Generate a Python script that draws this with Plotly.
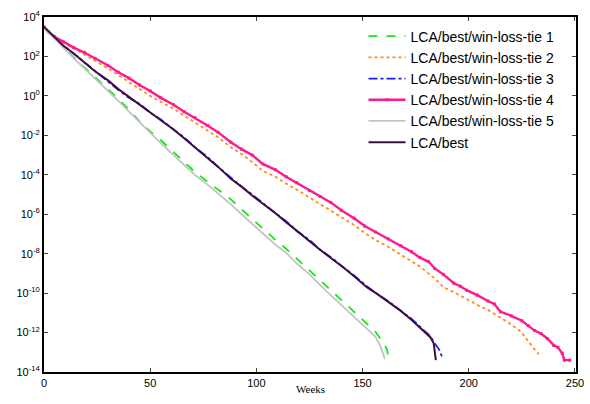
import plotly.graph_objects as go

# ---- data (log10 of value) ----
weeks_pink = [0, 2, 5, 9, 14, 19, 24, 30, 35, 40, 45, 50, 55, 61, 66, 71, 77, 82, 88, 93, 98, 103, 109, 114, 119,
              125, 130, 135, 140, 146, 151, 156, 162, 168, 173, 177, 181, 184, 188, 193, 196, 199, 204, 209, 212,
              215, 220, 225, 228, 231, 234, 237, 240, 242, 244, 245, 247.5]
logv_pink = [3.5, 3.25, 3.0, 2.75, 2.45, 2.2, 1.9, 1.55, 1.2, 0.9, 0.55, 0.25, -0.1, -0.45, -0.8, -1.1, -1.5, -1.85,
             -2.35, -2.7, -3.0, -3.45, -3.75, -4.1, -4.4, -4.8, -5.1, -5.4, -5.8, -6.2, -6.6, -6.9, -7.25, -7.6,
             -7.9, -8.2, -8.4, -8.75, -9.05, -9.5, -9.65, -9.85, -10.1, -10.4, -10.55, -10.95, -11.15, -11.4,
             -11.65, -11.9, -12.05, -12.3, -12.65, -12.75, -13.05, -13.4, -13.4]

weeks_orange = [0, 2, 5, 9, 14, 19, 24, 30, 35, 40, 45, 50, 55, 61, 66, 71, 77, 82, 88, 93, 98, 103, 109, 114, 119,
                125, 130, 135, 140, 146, 151, 156, 162, 168, 173, 177, 181, 185, 188, 193, 199, 204, 209, 213, 218,
                222, 225, 227, 229, 231, 233]
logv_orange = [3.5, 3.25, 3.0, 2.7, 2.4, 2.1, 1.8, 1.4, 1.05, 0.7, 0.35, 0.0, -0.3, -0.65, -1.0, -1.35, -1.75, -2.1,
               -2.6, -2.95, -3.35, -3.8, -4.1, -4.45, -4.75, -5.15, -5.5, -5.8, -6.15, -6.55, -6.95, -7.3, -7.65,
               -8.05, -8.35, -8.65, -9.0, -9.35, -9.7, -9.95, -10.3, -10.6, -10.85, -11.1, -11.45, -11.75, -12.0,
               -12.3, -12.6, -12.85, -13.1]

weeks_best = [0, 2, 5, 9, 14, 19, 24, 30, 35, 40, 45, 50, 55, 61, 66, 71, 77, 82, 88, 93, 98, 103, 109, 114, 119,
              125, 130, 136, 141, 146, 152, 157, 162, 168, 173, 178, 182, 183.5, 184.5]
logv_best = [3.5, 3.3, 2.95, 2.55, 2.15, 1.7, 1.25, 0.8, 0.35, -0.05, -0.45, -0.85, -1.25, -1.7, -2.15, -2.6, -3.15,
             -3.6, -4.2, -4.6, -5.05, -5.45, -5.95, -6.4, -6.85, -7.35, -7.8, -8.3, -8.7, -9.15, -9.7, -10.05,
             -10.45, -10.9, -11.35, -11.85, -12.25, -12.55, -13.4]

weeks_blue = [0, 2, 5, 9, 14, 19, 24, 30, 35, 40, 45, 50, 55, 61, 66, 71, 77, 82, 88, 93, 98, 103, 109, 114, 119,
              125, 130, 136, 141, 146, 152, 157, 162, 168, 173, 178, 182, 184, 186, 187.7]
logv_blue = [3.5, 3.3, 2.95, 2.55, 2.15, 1.7, 1.25, 0.75, 0.3, -0.1, -0.4, -0.85, -1.2, -1.7, -2.1, -2.6, -3.1, -3.6,
             -4.15, -4.6, -5.0, -5.45, -5.95, -6.35, -6.85, -7.3, -7.8, -8.25, -8.7, -9.1, -9.65, -10.05, -10.4,
             -10.9, -11.3, -11.8, -12.2, -12.55, -12.85, -13.3]

weeks_green = [0, 2, 5, 9, 14, 19, 24, 30, 35, 40, 45, 50, 55, 61, 66, 71, 77, 82, 88, 93, 98, 103, 109, 114, 119,
               125, 130, 136, 141, 146, 152, 156, 160, 161.5, 162.5]
logv_green = [3.5, 3.25, 2.95, 2.5, 1.95, 1.45, 0.95, 0.4, -0.15, -0.7, -1.3, -1.8, -2.25, -2.85, -3.35, -3.85,
              -4.35, -4.75, -5.25, -5.75, -6.25, -6.75, -7.3, -7.75, -8.25, -8.8, -9.35, -9.95, -10.4, -10.95,
              -11.5, -11.95, -12.55, -12.85, -13.45]

weeks_gray = [0, 2, 5, 9, 14, 19, 24, 30, 35, 40, 45, 50, 55, 61, 66, 71, 77, 82, 88, 93, 98, 103, 109, 114, 119,
              125, 130, 136, 141, 146, 152, 156, 158.5, 160.5]
logv_gray = [3.5, 3.2, 2.9, 2.45, 1.9, 1.4, 0.9, 0.3, -0.25, -0.8, -1.35, -1.9, -2.4, -3.0, -3.5, -4.0, -4.5, -4.95,
             -5.5, -6.0, -6.5, -7.0, -7.55, -7.95, -8.5, -9.05, -9.6, -10.2, -10.7, -11.2, -11.75, -12.2, -12.7,
             -13.35]

names = ["LCA/best/win-loss-tie 1", "LCA/best/win-loss-tie 2", "LCA/best/win-loss-tie 3",
         "LCA/best/win-loss-tie 4", "LCA/best/win-loss-tie 5", "LCA/best"]

x_ticks = [0, 50, 100, 150, 200, 250]
y_exps = [4, 2, 0, -2, -4, -6, -8, -10, -12, -14]
x_title = "Weeks"


def pw(vals):
    return [10 ** v for v in vals]


fig = go.Figure()
fig.add_trace(go.Scatter(x=weeks_green, y=pw(logv_green), name=names[0], mode="lines",
                         line=dict(color="#19e619", width=1.8, dash="dash")))
fig.add_trace(go.Scatter(x=weeks_orange, y=pw(logv_orange), name=names[1], mode="lines",
                         line=dict(color="#ff8c1a", width=1.8, dash="dot")))
fig.add_trace(go.Scatter(x=weeks_blue, y=pw(logv_blue), name=names[2], mode="lines",
                         line=dict(color="#1a1aff", width=1.8, dash="dashdot")))
fig.add_trace(go.Scatter(x=weeks_pink, y=pw(logv_pink), name=names[3], mode="lines+markers",
                         line=dict(color="#ff1a8c", width=2.4),
                         marker=dict(symbol="square", size=3, color="#ff1a8c")))
fig.add_trace(go.Scatter(x=weeks_gray, y=pw(logv_gray), name=names[4], mode="lines",
                         line=dict(color="#c4c4c4", width=1.8)))
fig.add_trace(go.Scatter(x=weeks_best, y=pw(logv_best), name=names[5], mode="lines",
                         line=dict(color="#3d0f40", width=2)))

fig.update_layout(
    width=590, height=404,
    margin=dict(l=44, r=14, t=17, b=32),
    paper_bgcolor="white", plot_bgcolor="white",
    font=dict(family="Liberation Sans, Arial", size=11, color="black"),
    showlegend=True,
    legend=dict(x=0.969, y=0.99, xanchor="right", yanchor="top", bgcolor="white",
                borderwidth=0, font=dict(size=14, family="Liberation Sans, Arial"),
                itemwidth=37, tracegroupgap=0),
    xaxis=dict(range=[0, 250.5], tickvals=x_ticks, ticks="inside", ticklen=4, automargin=False,
               showline=True, linecolor="black", linewidth=2, mirror="allticks",
               showgrid=False, zeroline=False),
    yaxis=dict(type="log", range=[-14, 4], tickvals=[10 ** e for e in y_exps], automargin=False,
               ticktext=["10<sup>%d</sup>" % e for e in y_exps], ticks="inside", ticklen=4,
               showline=True, linecolor="black", linewidth=2, mirror="allticks",
               showgrid=False, zeroline=False),
    annotations=[dict(text=x_title, xref="paper", yref="paper", x=0.5, y=0, yshift=-17,
                      xanchor="center", yanchor="middle", showarrow=False,
                      font=dict(family="Liberation Serif, Times New Roman", size=11))],
)

fig.write_html("out.html", config={"displayModeBar": False},
               post_script="document.body.style.margin='0px';")
